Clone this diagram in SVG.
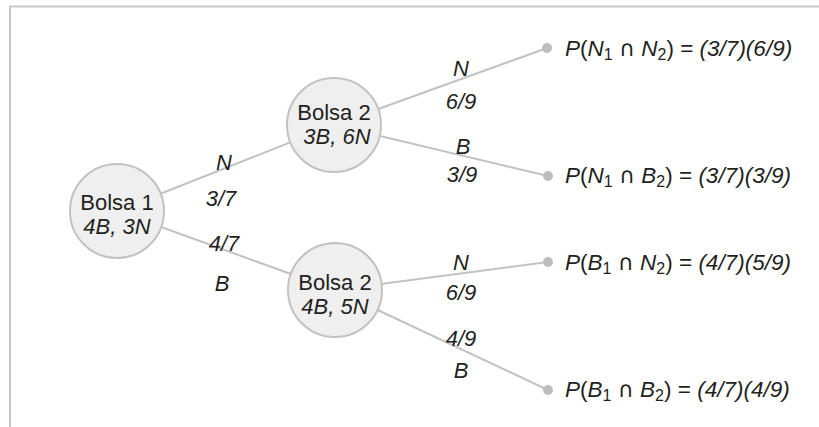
<svg xmlns="http://www.w3.org/2000/svg" width="819" height="427" viewBox="0 0 819 427">
<style>
text{font-family:"Liberation Sans",Arial,sans-serif;font-size:22px;fill:#231f20}
.i{font-style:italic}
.c{text-anchor:middle}
.node{fill:#efefef;stroke:#c2c2c2;stroke-width:2}
.edge{stroke:#c2c2c2;stroke-width:2;fill:none}
.dot{fill:#bdbdbd}
.lab{font-size:22.5px}
.sub{font-size:16px}
.cap{font-family:"DejaVu Sans",sans-serif;font-size:22px}
</style>
<rect width="819" height="427" fill="#fff"/>
<path d="M10 427V6.5H819" fill="none" stroke="#c8c8c8" stroke-width="2"/>
<g id="connectors">
<line class="edge" x1="117" y1="211" x2="334" y2="125"/>
<line class="edge" x1="117" y1="211" x2="335" y2="290"/>
<line class="edge" x1="334" y1="125" x2="547" y2="48"/>
<line class="edge" x1="334" y1="125" x2="548" y2="176"/>
<line class="edge" x1="335" y1="290" x2="548" y2="262"/>
<line class="edge" x1="335" y1="290" x2="548" y2="390"/>
<text class="i c" x="224" y="170">N</text>
<text class="i c" x="221" y="206">3/7</text>
<text class="i c" x="224" y="251">4/7</text>
<text class="i c" x="222" y="291">B</text>
<text class="i c" x="461" y="76">N</text>
<text class="i c" x="461" y="109">6/9</text>
<text class="i c" x="463" y="154">B</text>
<text class="i c" x="462" y="182">3/9</text>
<text class="i c" x="461" y="270">N</text>
<text class="i c" x="461" y="300">6/9</text>
<text class="i c" x="461" y="346">4/9</text>
<text class="i c" x="461" y="378">B</text>
</g>
<g id="bolsa1">
<circle class="node" cx="117" cy="211" r="47"/>
<text class="c" x="117" y="210">Bolsa 1</text>
<text class="c i" x="117" y="234">4B, 3N</text>
</g>
<g id="bolsa2a">
<circle class="node" cx="334" cy="125" r="47"/>
<text class="c" x="334" y="120">Bolsa 2</text>
<text class="c i" x="337" y="144">3B, 6N</text>
</g>
<g id="bolsa2b">
<circle class="node" cx="335" cy="290" r="47"/>
<text class="c" x="335" y="290">Bolsa 2</text>
<text class="c i" x="335" y="314">4B, 5N</text>
</g>
<g id="out1">
<circle class="dot" cx="547" cy="48" r="5"/>
<text class="lab" x="565" y="56"><tspan class="i">P</tspan>(<tspan class="i">N</tspan><tspan class="sub" dy="4">1</tspan><tspan dy="-4"> </tspan><tspan class="cap">∩</tspan> <tspan class="i">N</tspan><tspan class="sub" dy="4">2</tspan><tspan dy="-4">) = </tspan><tspan class="i">(3/7)(6/9)</tspan></text>
</g>
<g id="out2">
<circle class="dot" cx="548" cy="176" r="5"/>
<text class="lab" x="565" y="183"><tspan class="i">P</tspan>(<tspan class="i">N</tspan><tspan class="sub" dy="4">1</tspan><tspan dy="-4"> </tspan><tspan class="cap">∩</tspan> <tspan class="i">B</tspan><tspan class="sub" dy="4">2</tspan><tspan dy="-4">) = </tspan><tspan class="i">(3/7)(3/9)</tspan></text>
</g>
<g id="out3">
<circle class="dot" cx="548" cy="262" r="5"/>
<text class="lab" x="565" y="270"><tspan class="i">P</tspan>(<tspan class="i">B</tspan><tspan class="sub" dy="4">1</tspan><tspan dy="-4"> </tspan><tspan class="cap">∩</tspan> <tspan class="i">N</tspan><tspan class="sub" dy="4">2</tspan><tspan dy="-4">) = </tspan><tspan class="i">(4/7)(5/9)</tspan></text>
</g>
<g id="out4">
<circle class="dot" cx="548" cy="390" r="5"/>
<text class="lab" x="565" y="397"><tspan class="i">P</tspan>(<tspan class="i">B</tspan><tspan class="sub" dy="4">1</tspan><tspan dy="-4"> </tspan><tspan class="cap">∩</tspan> <tspan class="i">B</tspan><tspan class="sub" dy="4">2</tspan><tspan dy="-4">) = </tspan><tspan class="i">(4/7)(4/9)</tspan></text>
</g>
</svg>
